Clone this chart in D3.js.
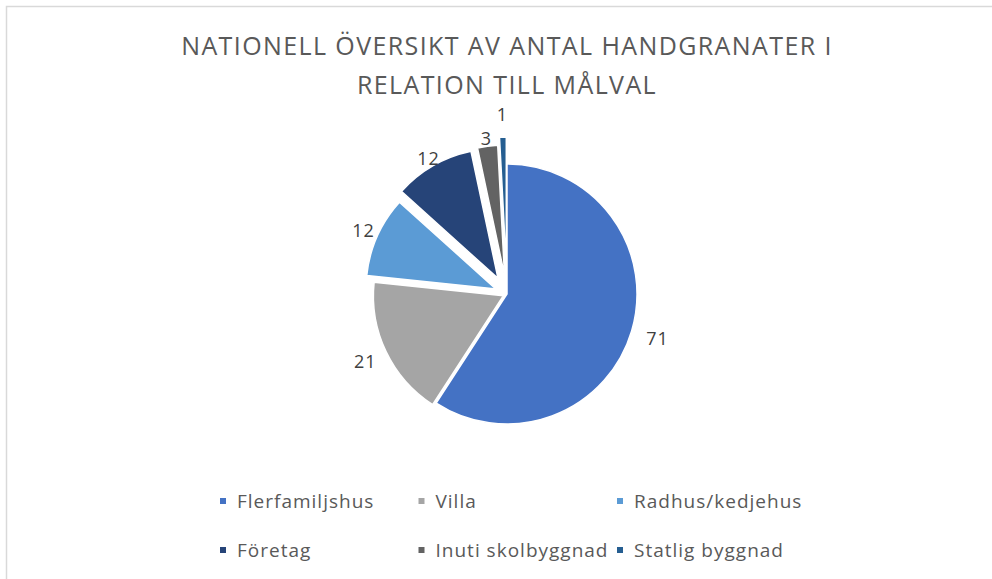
<!DOCTYPE html>
<html lang="sv">
<head>
    <meta charset="UTF-8">
    <title>Handgranater per målval</title>
    <script src="https://d3js.org/d3.v7.min.js"></script>
    <style>
    body { margin: 0; background: #fff; }
    svg text { font-family: "Open Sans", sans-serif; }
    </style>
</head>
<body>
    <div id="container1"></div>
    <script>
    // data
    var kategorier = ["Flerfamiljshus", "Villa", "Radhus/kedjehus", "Företag", "Inuti skolbyggnad", "Statlig byggnad"];
    var antal = [71, 21, 12, 12, 3, 1];
    var utbrytning = [0, 4, 12, 18, 19, 27]; // hur långt varje tårtbit är utdragen
    var farger = ["#4472C4", "#A5A5A5", "#5B9BD5", "#264478", "#636363", "#255E91"];
    var titelRader = ["NATIONELL ÖVERSIKT AV ANTAL HANDGRANATER I", "RELATION TILL MÅLVAL"];

    var bredd = 992, hojd = 579;
    var cx = 507, cy = 294, radie = 130;

    var svg = d3.select("div#container1")
        .append("svg")
        .attr("width", bredd)
        .attr("height", hojd);

    // ram (bara vänster och överkant syns)
    svg.append("path")
        .attr("d", "M6.5," + hojd + "V6.5H" + bredd)
        .attr("fill", "none")
        .attr("stroke", "#d9d9d9")
        .attr("stroke-width", 1.5);

    svg.append("g")
        .selectAll("text")
        .data(titelRader)
        .enter()
        .append("text")
        .attr("x", 507)
        .attr("y", (d, i) => 55 + i * 39)
        .attr("text-anchor", "middle")
        .attr("font-size", 25)
        .attr("letter-spacing", 1.4)
        .attr("fill", "#595959")
        .text(d => d);

    var data = kategorier.map((k, i) => ({ namn: k, varde: antal[i], ut: utbrytning[i], farg: farger[i] }));

    var pie = d3.pie()
        .sort(null)
        .value(d => d.varde);

    var arc = d3.arc()
        .innerRadius(0)
        .outerRadius(radie);

    var bitar = pie(data);

    function riktning(d) {
        var a = (d.startAngle + d.endAngle) / 2;
        return [Math.sin(a), -Math.cos(a)];
    }

    var tarta = svg.append("g")
        .attr("transform", "translate(" + cx + "," + cy + ")");

    tarta.selectAll("path")
        .data(bitar)
        .enter()
        .append("path")
        .attr("d", arc)
        .attr("transform", d => {
            var r = riktning(d);
            return "translate(" + r[0] * d.data.ut + "," + r[1] * d.data.ut + ")";
        })
        .attr("fill", d => d.data.farg)
        .attr("stroke", "#fff")
        .attr("stroke-width", 1.5);

    // etiketter utanför kanten, knuffas ut om de krockar
    var etikettStorlek = 18;
    var placerade = [];
    tarta.selectAll("text")
        .data(bitar)
        .enter()
        .append("text")
        .attr("text-anchor", "middle")
        .attr("dy", "0.36em")
        .attr("font-size", etikettStorlek)
        .attr("letter-spacing", 1)
        .attr("fill", "#404040")
        .text(d => d.data.varde)
        .each(function(d) {
            var r = riktning(d);
            var w = this.getComputedTextLength();
            var h = etikettStorlek * 0.75;
            var dist = radie + 27;
            var ruta;
            for (var n = 0; n < 100; n++) {
                var x = r[0] * dist, y = r[1] * dist;
                ruta = { x0: x - w / 2, x1: x + w / 2, y0: y - h / 2, y1: y + h / 2 };
                var krock = placerade.some(p => ruta.x0 < p.x1 + 10 && ruta.x1 > p.x0 - 10 &&
                    ruta.y0 < p.y1 + 10 && ruta.y1 > p.y0 - 10);
                if (!krock) break;
                dist += 1;
            }
            placerade.push(ruta);
            d3.select(this)
                .attr("x", (ruta.x0 + ruta.x1) / 2)
                .attr("y", (ruta.y0 + ruta.y1) / 2);
        });

    // förklaring, två rader med tre kolumner
    var kolumnX = d3.scalePoint().domain([0, 1, 2]).range([220, 617]);
    var radY = d3.scalePoint().domain([0, 1]).range([501, 550]);

    var legend = svg.append("g")
        .selectAll("g")
        .data(data)
        .enter()
        .append("g")
        .attr("transform", (d, i) => "translate(" + kolumnX(i % 3) + "," + radY(Math.floor(i / 3)) + ")");

    legend.append("rect")
        .attr("x", 0)
        .attr("y", -3)
        .attr("width", 6)
        .attr("height", 6)
        .attr("fill", d => d.farg);

    legend.append("text")
        .attr("x", 17)
        .attr("dy", "0.36em")
        .attr("font-size", 19)
        .attr("letter-spacing", 1)
        .attr("fill", "#595959")
        .text(d => d.namn);
    </script>
</body>
</html>
